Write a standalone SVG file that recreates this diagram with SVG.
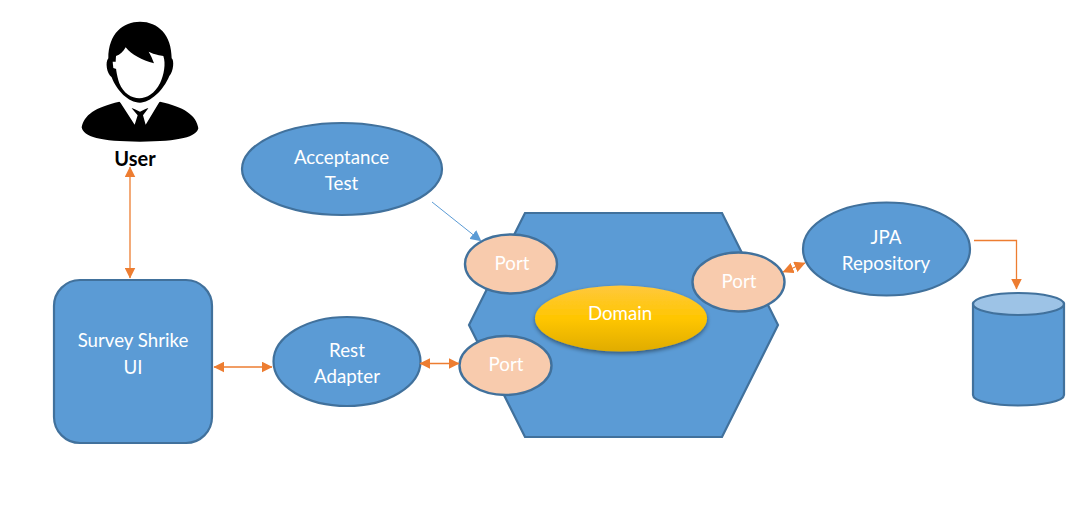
<svg xmlns="http://www.w3.org/2000/svg" width="1092" height="507" viewBox="0 0 1092 507">
<style>
.s{fill:#5b9bd5;stroke:#41719c;stroke-width:2.2}
.p{fill:#f8cbad;stroke:#41719c;stroke-width:2.4}
.t{font-family:Lato,"Open Sans","Liberation Sans",sans-serif;font-size:18.7px;fill:#fff;text-anchor:middle}
.o{fill:none;stroke:#ed7d31;stroke-width:1.3}
.k{fill:#000}
</style>
<defs>
<marker id="oe" viewBox="0 0 10 10" refX="9.500" refY="5" markerWidth="11" markerHeight="11" markerUnits="userSpaceOnUse" orient="auto-start-reverse"><path d="M0 0L10 5L0 10Z" fill="#ed7d31"/></marker>
<marker id="be" viewBox="0 0 10 10" refX="9.500" refY="5" markerWidth="11" markerHeight="11" markerUnits="userSpaceOnUse" orient="auto"><path d="M0 0L10 5L0 10Z" fill="#5b9bd5"/></marker>
<linearGradient id="g" x1="0" y1="0" x2="0" y2="1"><stop offset="0" stop-color="#ffc83d"/><stop offset=".5" stop-color="#ffc600"/><stop offset="1" stop-color="#e0ac00"/></linearGradient>
<filter id="sh" x="-10%" y="-10%" width="120%" height="125%"><feDropShadow dx="0" dy="2" stdDeviation="2" flood-color="#000" flood-opacity=".45"/></filter>
</defs>
<g id="user">
<g transform="translate(60 0) scale(.33333)">
<path class="k" d="M65 382C72 345 105 322 178 305L240 335L300 305C370 320 410 345 415 385C410 410 360 425 240 425C120 425 70 410 65 382Z"/>
<path d="M178 303L224 374L233 346L215 325L265 325L249 346L257 374L300 303L240 290Z" fill="#fff"/>
<path class="k" d="M145 175C145 100 190 65 240 65C295 65 335 105 335 175C343 180 341 215 328 228C310 272 270 308 240 308C205 308 170 272 155 232C140 222 135 185 145 175Z"/>
<path d="M168 168C180 165 190 155 197 142C215 165 245 180 282 190C278 178 272 165 266 155C285 165 300 165 310 168C318 190 312 225 300 250C285 280 260 295 238 295C215 295 190 280 178 250C170 225 165 200 168 168Z" fill="#fff"/>
<path d="M158 185L168 185L169 207L160 204Z" fill="#fff"/>
</g>
<text id="user-label" x="135" y="166" font-family="Lato,'Open Sans',sans-serif" font-size="20" font-weight="700" fill="#000" text-anchor="middle">User</text>
</g>
<g id="acceptance-test"><ellipse class="s" cx="342" cy="169" rx="100" ry="46"/><text class="t" x="341.500" y="164">Acceptance</text><text class="t" x="341.500" y="190">Test</text></g>
<g id="survey-ui"><rect class="s" x="54" y="280" width="158" height="163" rx="26"/><text class="t" x="133" y="347">Survey Shrike</text><text class="t" x="133" y="374">UI</text></g>
<g id="rest-adapter"><ellipse class="s" cx="347" cy="361.500" rx="73.500" ry="44.500"/><text class="t" x="347" y="357">Rest</text><text class="t" x="347" y="383">Adapter</text></g>
<g id="domain-hexagon"><path class="s" d="M525 213L722 213L778 325L722 437L525 437L469 325Z"/></g>
<g id="domain"><ellipse cx="621" cy="318.500" rx="86" ry="33" fill="url(#g)" filter="url(#sh)"/><text class="t" x="620" y="320">Domain</text></g>
<g id="port-1"><ellipse class="p" cx="511" cy="264" rx="46" ry="29.500"/><text class="t" x="512" y="270">Port</text></g>
<g id="port-2"><ellipse class="p" cx="505.500" cy="365.500" rx="46" ry="29.500"/><text class="t" x="506" y="371">Port</text></g>
<g id="port-3"><ellipse class="p" cx="738.500" cy="282" rx="46" ry="29.500"/><text class="t" x="739" y="288">Port</text></g>
<g id="jpa-repository"><ellipse class="s" cx="886.500" cy="249" rx="83.500" ry="46.500"/><text class="t" x="886" y="244">JPA</text><text class="t" x="886" y="270">Repository</text></g>
<g id="database"><path class="s" d="M973 304L973 395C973 401 993 405.500 1018 405.500C1043 405.500 1064 401 1064 395L1064 304Z"/><ellipse cx="1018.500" cy="304" rx="45.500" ry="11" fill="#9dc3e6" stroke="#41719c" stroke-width="2.200"/></g>
<g id="connectors">
<line class="o" x1="130" y1="167" x2="130" y2="278" marker-start="url(#oe)" marker-end="url(#oe)"/>
<line class="o" x1="214" y1="367" x2="272" y2="367" marker-start="url(#oe)" marker-end="url(#oe)"/>
<line class="o" x1="420" y1="363.500" x2="459" y2="363.500" marker-start="url(#oe)" marker-end="url(#oe)"/>
<line class="o" x1="783" y1="272" x2="805" y2="263" marker-start="url(#oe)" marker-end="url(#oe)"/>
<path class="o" d="M974 240.500L1016.500 240.500L1016.500 289" marker-end="url(#oe)"/>
<line x1="432" y1="202" x2="481" y2="241" stroke="#5b9bd5" stroke-width="1" marker-end="url(#be)"/>
</g>
</svg>
